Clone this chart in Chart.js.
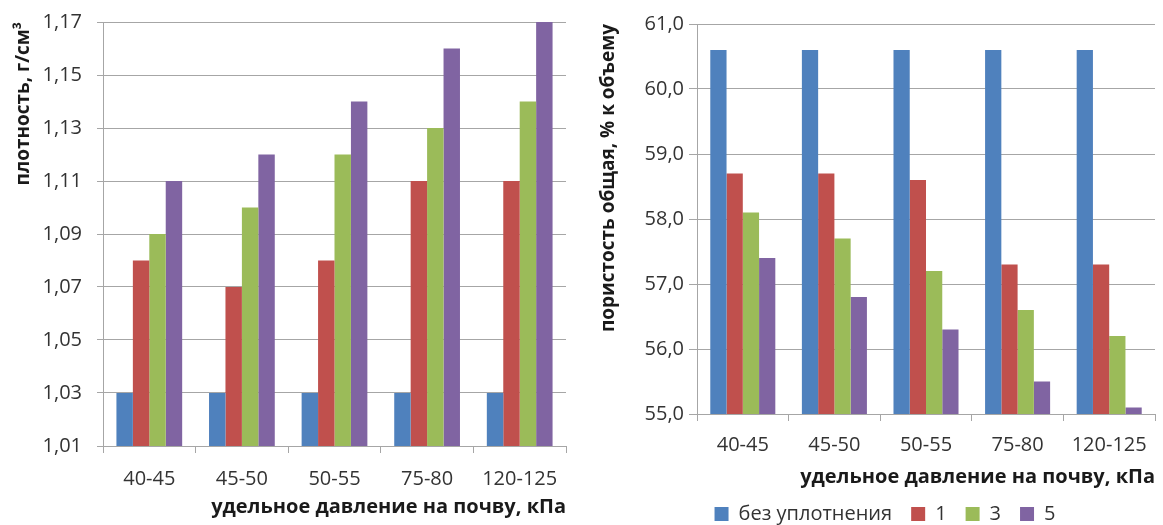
<!DOCTYPE html>
<html>
<head>
<meta charset="utf-8">
<script src="https://cdn.jsdelivr.net/npm/chart.js@4.4.1/dist/chart.umd.min.js"></script>
<style>
  html, body { margin: 0; padding: 0; background: #fff; overflow: hidden; width: 1163px; height: 525px; }
  #wrapL { position: absolute; left: 0; top: 0; width: 580px; height: 525px; }
  #wrapR { position: absolute; left: 580px; top: 0; width: 610px; height: 525px; }
</style>
</head>
<body>
<div id="wrapL"><canvas id="cL"></canvas></div>
<div id="wrapR"><canvas id="cR"></canvas></div>
<script>
const categories = ['40-45', '45-50', '50-55', '75-80', '120-125'];
const seriesNames = ['без уплотнения', '1', '3', '5'];

// плотность, г/см³
const densityNone = [1.03, 1.03, 1.03, 1.03, 1.03];
const density1 = [1.08, 1.07, 1.08, 1.11, 1.11];
const density3 = [1.09, 1.10, 1.12, 1.13, 1.14];
const density5 = [1.11, 1.12, 1.14, 1.16, 1.17];

// пористость общая, % к объему
const porosityNone = [60.6, 60.6, 60.6, 60.6, 60.6];
const porosity1 = [58.7, 58.7, 58.6, 57.3, 57.3];
const porosity3 = [58.1, 57.7, 57.2, 56.6, 56.2];
const porosity5 = [57.4, 56.8, 56.3, 55.5, 55.1];

const densityTicks = { min: 1.01, max: 1.17, step: 0.02 };
const porosityTicks = { min: 55, max: 61, step: 1 };

const colors = ['#4F81BD', '#C0504D', '#9BBB59', '#8064A2'];
const FONT = "'Open Sans', sans-serif";
const gridColor = '#a6a6a6';
const textColor = '#333333';

function makeDatasets(arrs) {
  return arrs.map((d, i) => ({
    label: seriesNames[i],
    data: d,
    backgroundColor: colors[i],
    borderWidth: 0,
    categoryPercentage: 0.71,
    barPercentage: 1.0
  }));
}

function makeChart(id, datasets, cfg) {
  return new Chart(document.getElementById(id), {
    type: 'bar',
    data: { labels: categories, datasets },
    options: {
      responsive: true,
      maintainAspectRatio: false,
      animation: false,
      layout: { padding: cfg.padding },
      plugins: {
        legend: cfg.legend,
        tooltip: { enabled: false }
      },
      scales: {
        x: {
          grid: { display: true, drawOnChartArea: false, drawTicks: true, tickLength: 7, color: gridColor },
          border: { display: true, color: gridColor, width: 1 },
          ticks: { color: textColor, font: { family: FONT, size: 20 }, padding: cfg.xTickPad, maxRotation: 0 },
          title: { display: true, text: 'удельное давление на почву, кПа', align: 'end', color: '#1a1a1a',
                   font: { family: FONT, size: 20, weight: 'bold' }, padding: { top: 0, bottom: cfg.xTitlePad } },
          afterFit: s => { s.height = cfg.xHeight; }
        },
        y: {
          min: cfg.ticks.min, max: cfg.ticks.max,
          grid: { color: gridColor, lineWidth: 1, tickLength: cfg.yTickLen, drawTicks: true },
          border: { display: true, color: gridColor, width: 1 },
          ticks: { stepSize: cfg.ticks.step, color: textColor, font: { family: FONT, size: 20, lineHeight: 0.6 }, padding: cfg.yTickPad,
                   callback: v => Number(v).toFixed(cfg.dec).replace('.', ',') },
          title: { display: true, text: cfg.yTitle, align: 'end', color: '#1a1a1a',
                   font: { family: FONT, size: 19, weight: 'bold' }, padding: { top: cfg.yTitlePad, bottom: 0 } },
          afterFit: s => { s.width = cfg.yWidth; }
        }
      }
    }
  });
}

makeChart('cL', makeDatasets([densityNone, density1, density3, density5]), {
  padding: { top: 22, right: 14, bottom: 0, left: 0 },
  legend: { display: false },
  ticks: densityTicks, dec: 2,
  yTitle: 'плотность, г/см³',
  xHeight: 79, yWidth: 103,
  xTickPad: 14, xTitlePad: 6,
  yTickLen: 6, yTickPad: 15, yTitlePad: 12
});

makeChart('cR', makeDatasets([porosityNone, porosity1, porosity3, porosity5]), {
  padding: { top: 24, right: 35, bottom: -9, left: 35 },
  legend: {
    display: true, position: 'bottom', align: 'center',
    labels: { boxWidth: 14, boxHeight: 14, padding: 19, color: textColor, font: { family: FONT, size: 20 } }
  },
  ticks: porosityTicks, dec: 1,
  yTitle: 'пористость общая, % к объему',
  xHeight: 71, yWidth: 82,
  xTickPad: 12, xTitlePad: -4,
  yTickLen: 8, yTickPad: 5, yTitlePad: -18
});
</script>
</body>
</html>
